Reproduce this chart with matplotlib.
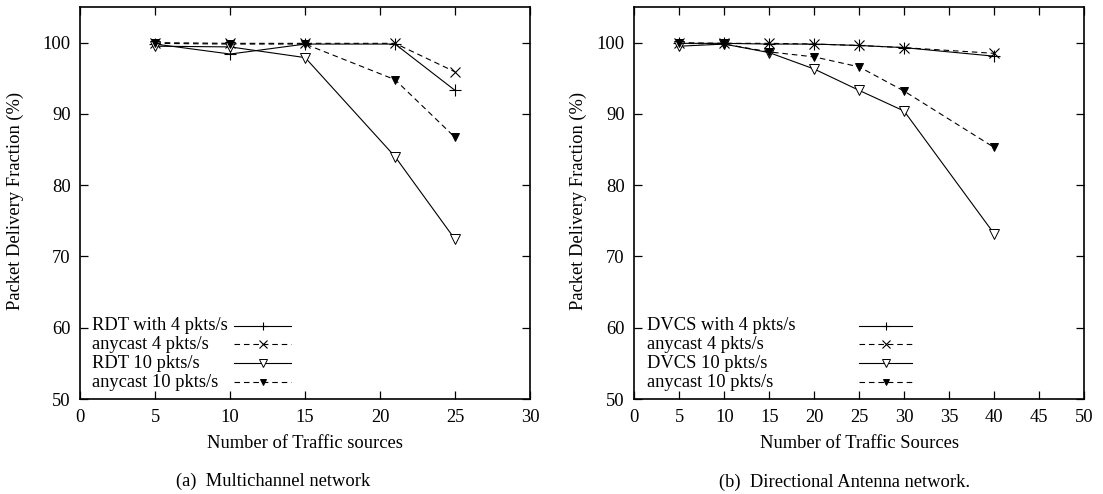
import matplotlib
matplotlib.use("Agg")
import matplotlib.pyplot as plt
from matplotlib.lines import Line2D

plt.rcParams["font.family"] = ["Liberation Serif", "DejaVu Serif"]
plt.rcParams["font.size"] = 13.3

# ---- data: multichannel network ----
mc_sources = [5, 10, 15, 21, 25]
mc_rdt4 = [99.8, 98.4, 99.8, 99.8, 93.3]
mc_any4 = [100.0, 99.9, 99.9, 99.9, 95.9]
mc_rdt10 = [99.5, 99.4, 97.9, 84.0, 72.4]
mc_any10 = [99.9, 99.8, 99.8, 94.8, 86.7]
mc_labels = ["RDT with 4 pkts/s", "anycast 4 pkts/s", "RDT 10 pkts/s", "anycast 10 pkts/s"]

# ---- data: directional antenna network ----
da_sources = [5, 10, 15, 20, 25, 30, 40]
da_dvcs4 = [99.9, 99.9, 99.8, 99.8, 99.6, 99.3, 98.1]
da_any4 = [100.0, 99.9, 99.9, 99.8, 99.6, 99.3, 98.5]
da_dvcs10 = [99.5, 99.8, 98.6, 96.3, 93.3, 90.4, 73.2]
da_any10 = [99.9, 99.8, 98.7, 98.0, 96.6, 93.2, 85.3]
da_labels = ["DVCS with 4 pkts/s", "anycast 4 pkts/s", "DVCS 10 pkts/s", "anycast 10 pkts/s"]

y_ticks = [50, 60, 70, 80, 90, 100]
mc_xticks = [0, 5, 10, 15, 20, 25, 30]
da_xticks = [0, 5, 10, 15, 20, 25, 30, 35, 40, 45, 50]

LW = 0.8
DASH = (0, (5, 3.5))
styles = [
    dict(color="black", lw=LW, ls="-", marker="+", ms=8, mew=0.8),
    dict(color="black", lw=LW, ls=DASH, marker="x", ms=6.5, mew=0.8),
    dict(color="black", lw=LW, ls="-", marker="v", ms=6.5, mew=0.7, mfc="white"),
    dict(color="black", lw=LW, ls=DASH, marker="v", ms=6, mew=0.7, mfc="black"),
]

W, H = 1103, 494
fig = plt.figure(figsize=(W / 100, H / 100), dpi=100)

def px_axes(left, top, right, bottom):
    return fig.add_axes([left / W, 1 - bottom / H, (right - left) / W, (bottom - top) / H])

ax1 = px_axes(80.3, 7.0, 530.0, 399.0)
ax2 = px_axes(634.3, 7.0, 1084.0, 399.0)

def draw_panel(ax, xs, series, labels, xlim, xticks, xlabel, text_x, samp_x0, samp_x1):
    for ys, st in zip(series, styles):
        ax.plot(xs, ys, **st)
    ax.set_xlim(*xlim)
    ax.set_ylim(50, 105)
    ax.set_xticks(xticks)
    ax.set_yticks(y_ticks)
    ax.tick_params(direction="in", length=6, width=0.9, top=True, right=True,
                   labelsize=13.3, pad=7)
    for s in ax.spines.values():
        s.set_linewidth(1.2)
    ax.set_xlabel(xlabel, fontsize=13.3, labelpad=7)
    # key: left-aligned labels, line samples in a column on the right
    rows = [0.187, 0.1395, 0.091, 0.0426]
    for lab, st, ry in zip(labels, styles, rows):
        ax.text(text_x, ry, lab, transform=ax.transAxes, ha="left", va="center",
                fontsize=13.3)
        ax.add_line(Line2D([samp_x0, samp_x1], [ry, ry], transform=ax.transAxes,
                           color=st["color"], lw=st["lw"], ls=st["ls"]))
        ax.add_line(Line2D([(samp_x0 + samp_x1) / 2], [ry], transform=ax.transAxes,
                           ls="none", marker=st["marker"], ms=st["ms"] * 0.8,
                           mew=st["mew"], color="black",
                           mfc=st.get("mfc", "black")))

draw_panel(ax1, mc_sources, [mc_rdt4, mc_any4, mc_rdt10, mc_any10], mc_labels,
           (0, 30), mc_xticks, "Number of Traffic sources", 0.027, 0.342, 0.4685)
draw_panel(ax2, da_sources, [da_dvcs4, da_any4, da_dvcs10, da_any10], da_labels,
           (0, 50), da_xticks, "Number of Traffic Sources", 0.028, 0.4997, 0.6175)

ycenter = 1 - 201 / H
fig.text(15 / W, ycenter, "Packet Delivery Fraction (%)", rotation=90,
         ha="center", va="center", fontsize=13.3)
fig.text(578 / W, ycenter, "Packet Delivery Fraction (%)", rotation=90,
         ha="center", va="center", fontsize=13.3)

fig.text(273 / W, 1 - 481 / H, "(a)  Multichannel network", ha="center", va="center",
         fontsize=13.3)
fig.text(844.5 / W, 1 - 482 / H, "(b)  Directional Antenna network.", ha="center",
         va="center", fontsize=13.3)

fig.savefig("out.png", dpi=100)
